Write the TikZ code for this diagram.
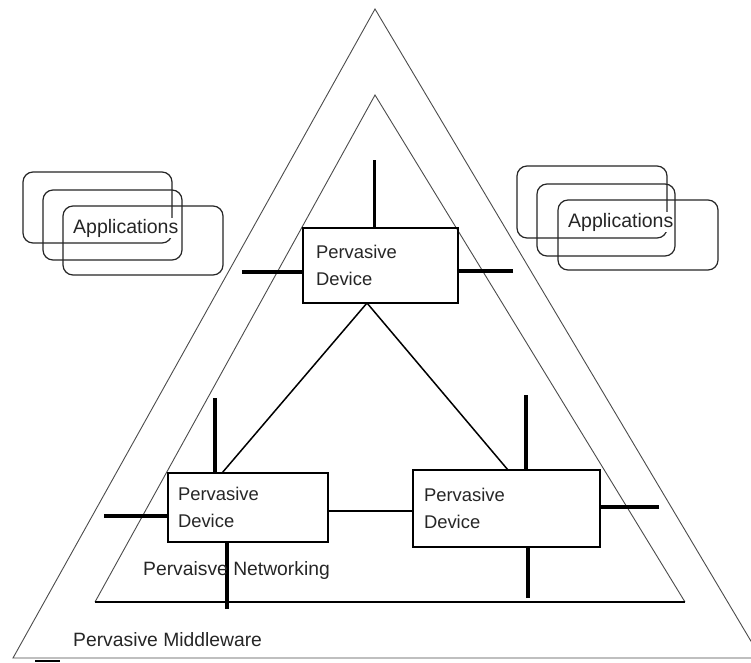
\documentclass[tikz,border=0pt]{standalone}
\usepackage{fontspec}
\setmainfont{Liberation Sans}
\newcommand\devfont{\fontsize{18.4}{27}\selectfont}
\newcommand\lblfont{\fontsize{19.3}{23}\selectfont}
\newcommand\appfont{\fontsize{19.5}{23}\selectfont}
\begin{document}
\begin{tikzpicture}[x=1pt,y=-1pt,
  tri/.style={draw=black!70, line width=0.9pt},
  dev/.style={draw=black, line width=1.3pt, align=left, inner ysep=0pt, outer sep=0pt, font=\devfont, text=black!85},
  stub/.style={line width=3.6pt, line cap=butt},
  link/.style={line width=1.5pt},
  app/.style={draw=black!85, line width=1.2pt, rounded corners=10pt},
  lbl/.style={font=\lblfont, text=black!85, anchor=west, inner sep=0pt},
  apptext/.style={font=\appfont, text=black!85, anchor=west, inner sep=1pt, fill=white}]
\useasboundingbox (0,0) rectangle (751,662);
\fill[white] (0,0) rectangle (751,662);

% triangles
\coordinate (oA) at (375,9);
\coordinate (oB) at (13,658);
\coordinate (oC) at (761,658);
\coordinate (iA) at (375,95);
\coordinate (iB) at (95,602);
\coordinate (iC) at (685,602);
\begin{scope}
  \clip (0,0) rectangle (751,662);
  \draw[tri] (oA) -- (oB) -- (oC) -- cycle;
\end{scope}
\draw[tri] (iB) -- (iA) -- (iC);
\draw[line width=1.3pt] (iB) -- (iC);

% applications (left)
\draw[app] (23,172) rectangle (172,243);
\draw[app] (43,190) rectangle (182,260);
\draw[app] (63,206) rectangle (223,275);
\node[apptext] (appL) at (72,228) {Applications};
% applications (right)
\draw[app] (517,166) rectangle (667,238);
\draw[app] (537,184) rectangle (675,256);
\draw[app] (558,200) rectangle (718,270);
\node[apptext] (appR) at (567,222) {Applications};

% devices
\node[dev, inner xsep=13pt, text width=129pt, minimum height=75pt] (top) at (380.5,265.5) {Pervasive\\Device};
\node[dev, inner xsep=10pt, text width=140pt, minimum height=69pt] (bl) at (248,507.5) {Pervasive\\Device};
\node[dev, inner xsep=11pt, text width=165pt, minimum height=77pt] (br) at (506.5,508.5) {Pervasive\\Device};

% stubs of top device
\coordinate (tT) at (374,160);
\coordinate (tL) at (242,272);
\coordinate (tR) at (513,271);
\draw[stub, line width=3pt] (tT) -- (tT |- top.north);
\draw[stub] (tL) -- (tL -| top.west);
\draw[stub] (tR) -- (tR -| top.east);

% stubs of bottom-left device
\coordinate (lT) at (215,398);
\coordinate (lL) at (104,516);
\coordinate (lB) at (227,609);
\draw[stub] (lT) -- (lT |- bl.north);
\draw[stub] (lL) -- (lL -| bl.west);
\draw[stub] (lB) -- (lB |- bl.south);

% stubs of bottom-right device
\coordinate (rT) at (526,395);
\coordinate (rR) at (659,507);
\coordinate (rB) at (528,598);
\draw[stub] (rT) -- (rT |- br.north);
\draw[stub] (rR) -- (rR -| br.east);
\draw[stub] (rB) -- (rB |- br.south);

% links between devices
\coordinate (d0) at (367,0);
\coordinate (d1) at (222,0);
\coordinate (d2) at (508,0);
\coordinate (hy) at (0,511);
\draw[link] (top.south -| d0) -- (bl.north -| d1);
\draw[link] (top.south -| d0) -- (br.north -| d2);
\draw[link] (bl.east |- hy) -- (br.west |- hy);

% labels
\node[lbl] (net) at (143,570) {Pervaisve Networking};
\node[lbl] (mid) at (73,640) {Pervasive Middleware};

% small mark at the bottom
\coordinate (m1) at (35,661);
\coordinate (m2) at (60,661);
\draw[line width=2.5pt] (m1) -- (m2);
\end{tikzpicture}
\end{document}
